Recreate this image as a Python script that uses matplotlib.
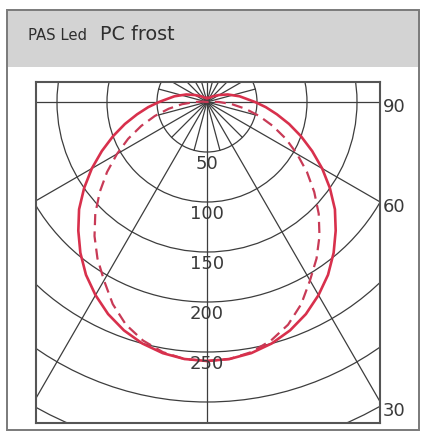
import numpy as np
import matplotlib

matplotlib.use("Agg")
import matplotlib.pyplot as plt  # noqa: E402
from matplotlib.patches import Circle, Rectangle  # noqa: E402

plt.rcParams["font.family"] = ["DejaVu Sans"]

# ---- data: luminous intensity (cd/klm) vs angle from nadir (deg) -----------
solid_ang = [0, 5, 10, 15, 20, 25, 30, 35, 40, 45, 50, 55, 60, 65, 70, 75, 80,
             85, 90, 100, 110, 120, 135, 150, 165, 180]
solid_val = [259, 258, 255, 250, 243, 234, 223, 211, 197, 182, 167, 150, 133,
             116, 100, 85, 71, 59, 48, 33, 22, 14, 8, 5, 4, 4]
dash_ang = [0, 5, 10, 15, 20, 25, 30, 35, 40, 45, 50, 55, 60, 65, 70, 75, 80,
            85, 90, 95, 100]
dash_val = [259, 258, 254, 247, 237, 223, 206, 191, 175, 158, 140, 122, 104,
            87, 70, 54, 39, 25, 12, 4, 0]
rings = [50, 100, 150, 200, 250, 300, 350]
ring_labels = ["50", "100", "150", "200", "250"]
angle_labels = ["90", "60", "30"]

W, H = 428, 433
GRID = "#3d3d3d"
RED = "#d8304c"
RED2 = "#c83a56"
TXT = "#3a3a3a"

fig = plt.figure(figsize=(W / 100, H / 100), dpi=100)

# panel frame + grey header
fig.patches.append(Rectangle((7 / W, 1 - 67 / H), 413 / W, 57 / H,
                             transform=fig.transFigure, facecolor="#d3d3d3",
                             edgecolor="none", zorder=0))
fig.patches.append(Rectangle((7 / W, 1 - 430 / H), 412 / W, 420 / H,
                             transform=fig.transFigure, facecolor="none",
                             edgecolor="#7a7a7a", linewidth=1.4, zorder=1))
fig.text(28 / W, 1 - 40 / H, "PAS Led", fontsize=10.7, color="#2e2e2e",
         ha="left", va="baseline")
fig.text(100 / W, 1 - 40 / H, "PC frost", fontsize=13.8, color="#2e2e2e",
         ha="left", va="baseline")

# polar diagram drawn on a plain cartesian axes (1 unit = 1 px)
ax = fig.add_axes([36 / W, 1 - 423 / H, 344 / W, 341 / H])
ax.set_xlim(-171, 173)
ax.set_ylim(-321, 20)
ax.set_xticks([])
ax.set_yticks([])
for s in ax.spines.values():
    s.set_color("#555555")
    s.set_linewidth(1.5)

for r in rings:
    ax.add_patch(Circle((0, 0), r, fill=False, edgecolor=GRID, linewidth=0.9,
                        zorder=1))

# short spokes every 15 deg, long ones every 30 deg
for a in range(0, 360, 15):
    t = np.deg2rad(a)
    length = 600 if a % 30 == 0 else 50
    ax.plot([0, length * np.sin(t)], [0, -length * np.cos(t)], color=GRID,
            linewidth=0.9, zorder=1)

# curves (mirrored about the vertical axis)
def polar_xy(ang, val):
    ang = np.asarray(ang, float)
    val = np.asarray(val, float)
    full_a = np.concatenate([-ang[::-1], ang[1:]])
    full_v = np.concatenate([val[::-1], val[1:]])
    t = np.deg2rad(full_a)
    return full_v * np.sin(t), -full_v * np.cos(t)


x, y = polar_xy(dash_ang, dash_val)
ax.plot(x, y, color=RED2, linewidth=1.6, dashes=(5, 2.8), zorder=3)
x, y = polar_xy(solid_ang, solid_val)
ax.plot(x, y, color=RED, linewidth=1.9, zorder=4)

# radial value labels
for r, lab in zip(rings, ring_labels):
    ax.text(0, -(r + 12), lab, ha="center", va="center", fontsize=13,
            color=TXT, zorder=5)

# angle labels outside the right frame
for lab, yy in zip(angle_labels, [-5, -105, -309]):
    ax.text(176, yy, lab, ha="left", va="center", fontsize=13, color=TXT,
            clip_on=False)

fig.savefig("out.png", dpi=100, facecolor="white")
